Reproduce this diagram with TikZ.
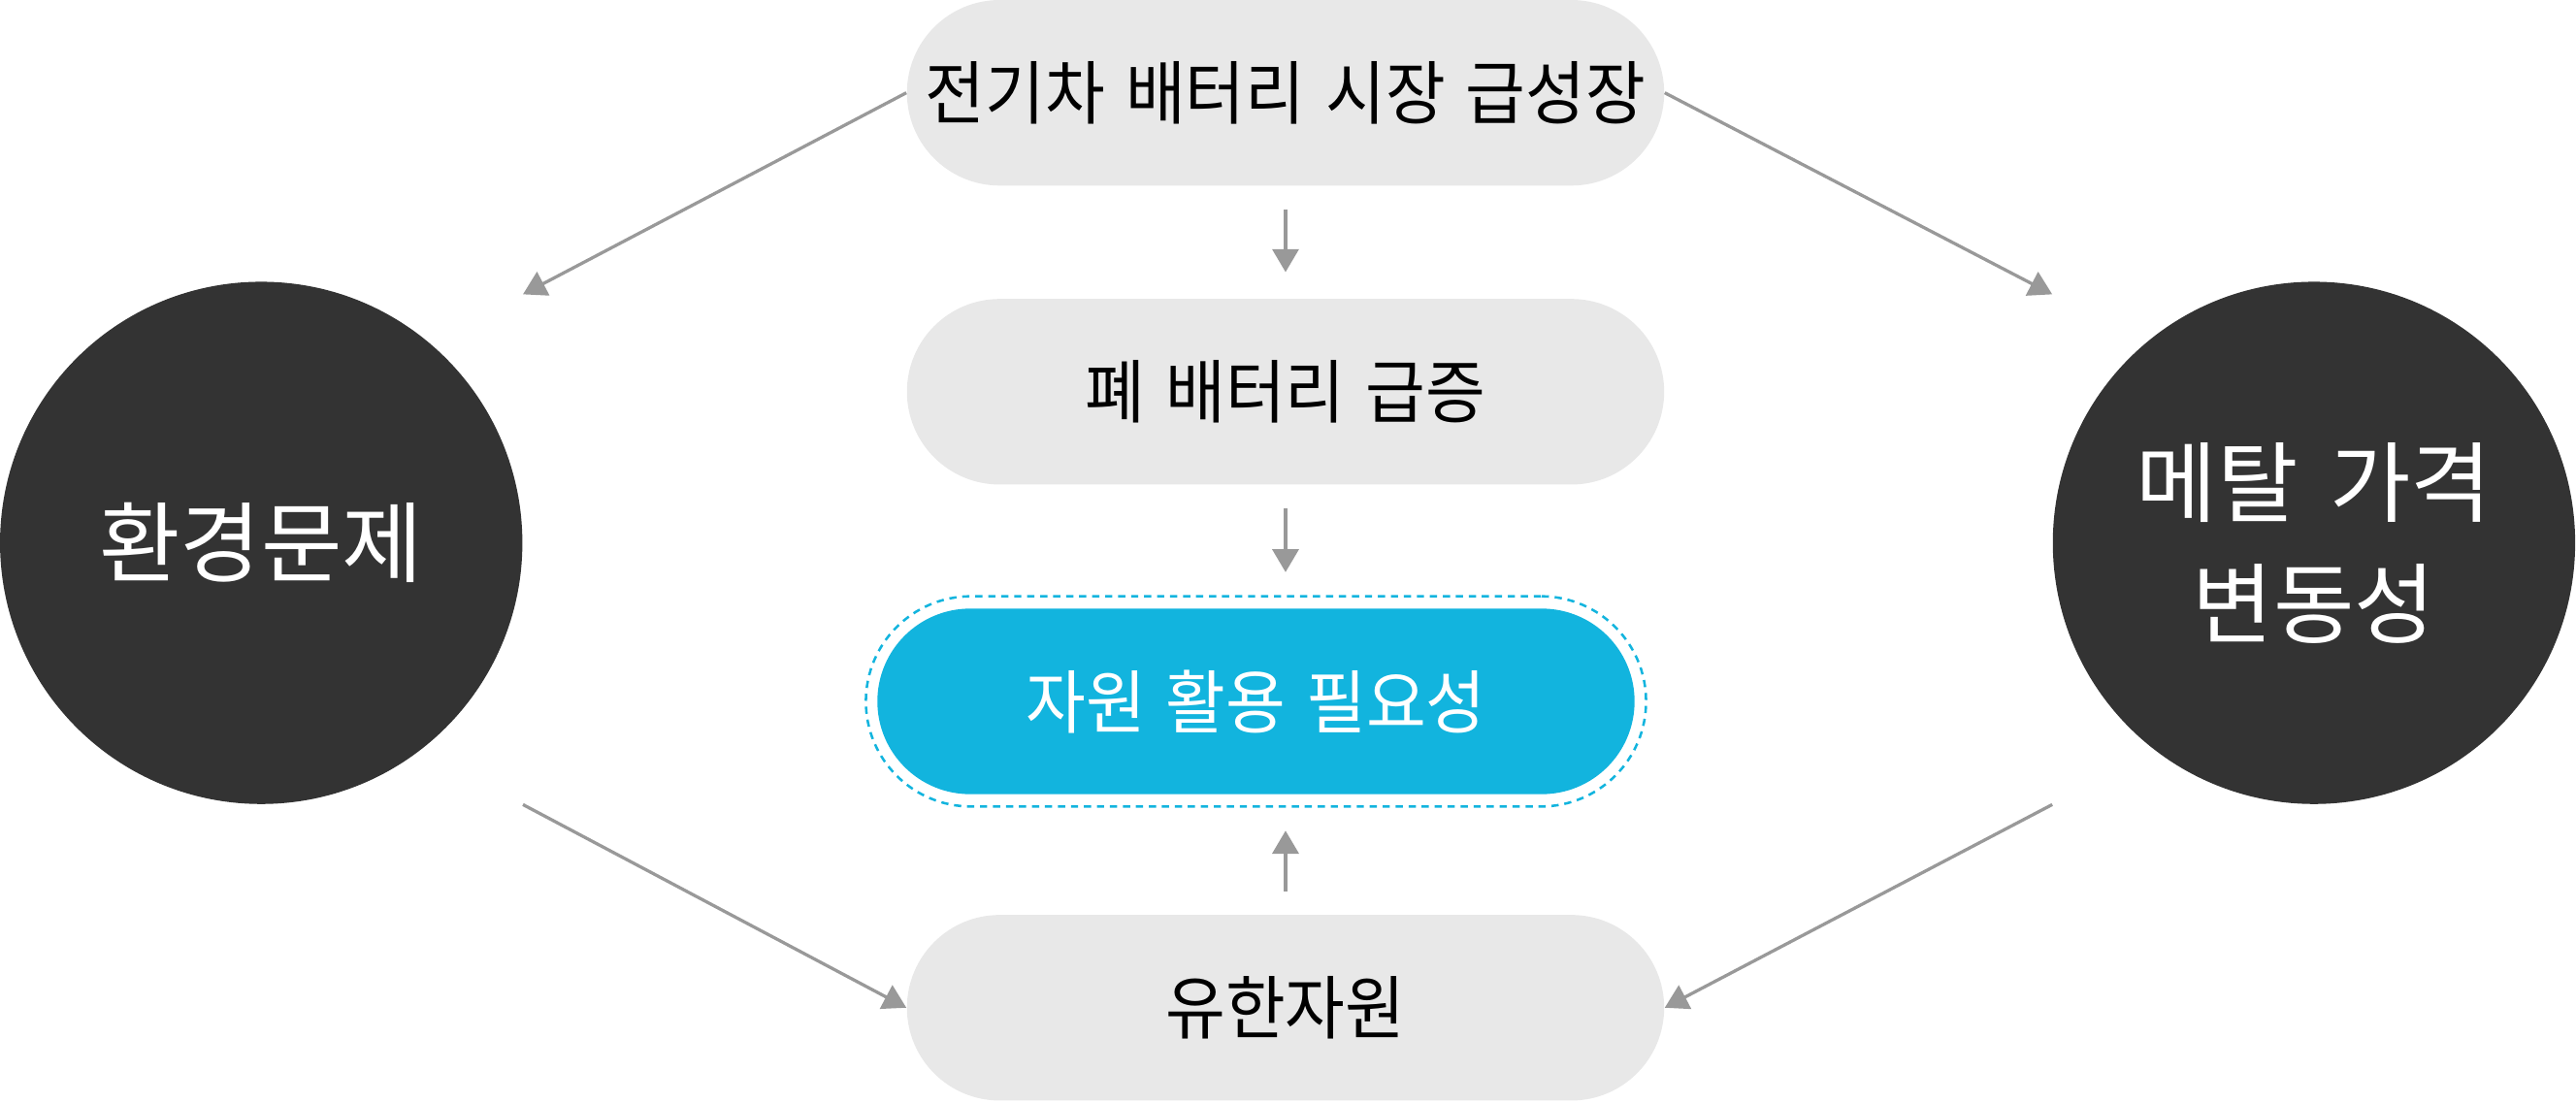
\documentclass[tikz,border=0pt]{standalone}
\usepackage{fontspec}
\newfontfamily\kr{Noto Sans CJK KR}[FakeStretch=0.94, WordSpace=1.4]
\newfontfamily\krball{Noto Sans CJK KR}[WordSpace=1.6]
\usetikzlibrary{arrows.meta,calc}
\definecolor{pillgray}{HTML}{E8E8E8}
\definecolor{darkball}{HTML}{333333}
\definecolor{skyblue}{HTML}{12B4DE}
\definecolor{arrgray}{HTML}{999999}

\begin{document}
\begin{tikzpicture}[x=0.02cm, y=-0.02cm,
		pill/.style={fill=pillgray, minimum width=9.22cm, minimum height=2.26cm, rounded corners=1.13cm, inner sep=0pt, font=\kr\fontsize{24}{28}\selectfont},
		ball/.style={circle, fill=darkball, minimum size=6.36cm, inner sep=0pt, text=white, align=center, font=\krball\fontsize{30.5}{42}\selectfont},
		arr/.style={draw=arrgray, line width=1.1pt, -{Triangle[length=0.28cm, width=0.32cm]}}]
		\useasboundingbox (0,0) rectangle (1568,671);

		% center column
		\node[pill] (market) at (782.5,56.5) {전기차 배터리 시장 급성장};
		\node[pill] (waste) at (782.5,238.5) {폐 배터리 급증};
		\node[pill, fill=skyblue, text=white] (need) at (764.5,427) {자원 활용 필요성};
		\node[draw=skyblue, line width=0.85pt, dash pattern=on 2.5pt off 2pt, minimum width=9.5cm, minimum height=2.56cm, rounded corners=1.28cm] (ring) at (need) {};
		\node[pill] (limit) at (782.5,613.5) {유한자원};

		% side circles
		\node[ball] (env) at (159,330.5) {환경문제};
		\node[ball] (metal) at (1408.5,330.5) {메탈 가격\\변동성};

		\draw[arr] (market.west) -- ($(env.north -| env.east)+(0,8)$);
		\draw[arr] (market.east) -- ($(metal.north -| metal.west)+(0,8)$);
		\draw[arr] ($(market.south)+(0,14)$) -- ($(waste.north)+(0,-16)$);
		\draw[arr] ($(waste.south)+(0,14)$) -- ($(waste.south)+(0,53)$);
		\draw[arr] ($(limit.north)+(0,-14)$) -- ($(limit.north |- ring.south)+(0,14)$);
		\draw[arr] (env.south -| env.east) -- (limit.west);
		\draw[arr] (metal.south -| metal.west) -- (limit.east);
	\end{tikzpicture}
\end{document}
